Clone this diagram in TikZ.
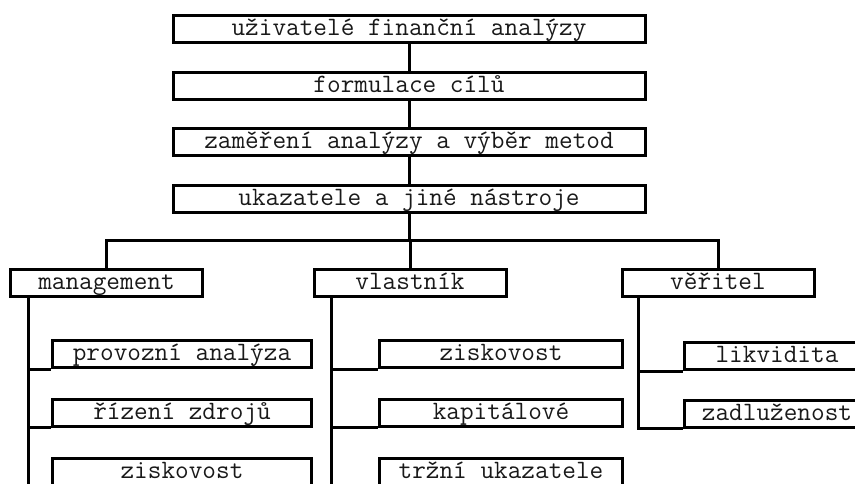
\documentclass[tikz,border=0pt]{standalone}
\usepackage{fontspec}
\begin{document}
\begin{tikzpicture}[x=1pt,y=-1pt,
  base/.style={draw, line width=3pt, inner sep=0pt, text=black!90,
    font=\ttfamily\addfontfeature{FakeBold=0.8}\fontsize{26.5}{26.5}\selectfont,
    text height=16pt, text depth=3pt, minimum height=27pt},
  topbox/.style={base, minimum width=472pt},
  partybox/.style={base, minimum width=192pt},
  msub/.style={base, minimum width=259pt},
  vsub/.style={base, minimum width=243pt},
  rsub/.style={base, minimum width=186pt},
  conn/.style={line width=3pt}]
\useasboundingbox (0,0) rectangle (855,483);
\clip (0,0) rectangle (855,483);

% main chain
\node[topbox] (b1) at (409,29)    {uživatelé finanční analýzy};
\node[topbox] (b2) at (409,86)    {formulace cílů};
\node[topbox] (b3) at (409,142)   {zaměření analýzy a výběr metod};
\node[topbox] (b4) at (409,198.5) {ukazatele a jiné nástroje};
\draw[conn] (b1) -- (b2);
\draw[conn] (b2) -- (b3);
\draw[conn] (b3) -- (b4);

% user groups
\node[partybox] (m) at (106.5,282.5) {management};
\node[partybox] (v) at (410,282.5)   {vlastník};
\node[partybox] (r) at (718,282.5)   {věřitel};
\coordinate (bus) at (409,240);
\draw[conn] (b4.south) -- (bus);
\draw[conn] (m.north) |- (bus) -| (r.north);
\draw[conn] (bus) -| (v.north);

% management branch
\node[msub] (m1) at (182,354)   {provozní analýza};
\node[msub] (m2) at (182,412.5) {řízení zdrojů};
\node[msub] (m3) at (182,471.5) {ziskovost};
\draw[conn] ([xshift=19.5pt]m.south west) |- (m3.south west);
\draw[conn] ([xshift=19.5pt]m.south west) |- (m1.south west);
\draw[conn] ([xshift=19.5pt]m.south west) |- (m2.south west);

% owner branch
\node[vsub] (v1) at (501,354)   {ziskovost};
\node[vsub] (v2) at (501,412.5) {kapitálové};
\node[vsub] (v3) at (501,471.5) {tržní ukazatele};
\draw[conn] ([xshift=18.5pt]v.south west) |- (v3.south west);
\draw[conn] ([xshift=18.5pt]v.south west) |- (v1.south west);
\draw[conn] ([xshift=18.5pt]v.south west) |- (v2.south west);

% creditor branch
\node[rsub] (r1) at (777,356)   {likvidita};
\node[rsub] (r2) at (777,413.5) {zadluženost};
\draw[conn] ([xshift=18pt]r.south west) |- (r2.south west);
\draw[conn] ([xshift=18pt]r.south west) |- (r1.south west);
\end{tikzpicture}
\end{document}
